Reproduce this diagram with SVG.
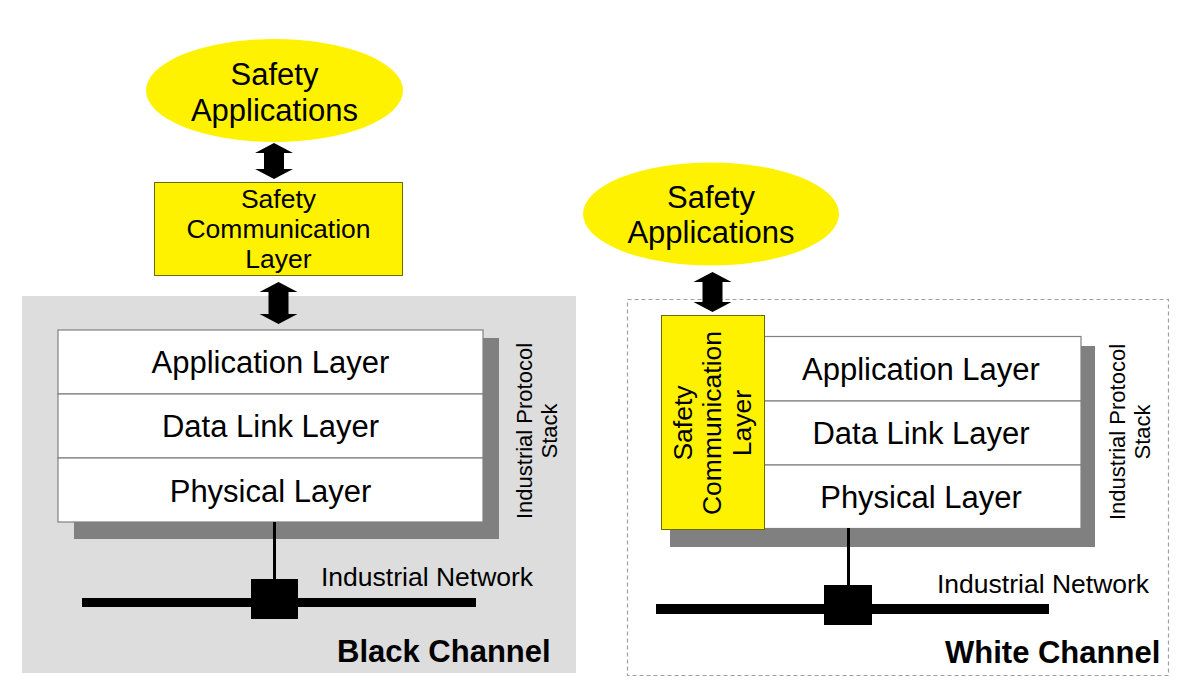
<svg xmlns="http://www.w3.org/2000/svg" width="1200" height="698" viewBox="0 0 1200 698">
<defs>
<style>
text{font-family:"Liberation Sans",Arial,sans-serif;fill:#000}
.yel{fill:#fff200;stroke:#6b6b00;stroke-width:1}
.ell{fill:#fff200;stroke:none}
.shadow{fill:#808080}
.layer{fill:#fff;stroke:#808080;stroke-width:1.2}
.big{font-size:31px;text-anchor:middle}
.mid{font-size:26.5px;text-anchor:middle}
.side{font-size:22px;text-anchor:middle}
.net{font-size:26.5px}
.ch{font-size:31px;font-weight:bold}
.arrow{fill:#000}
</style>
</defs>
<rect width="1200" height="698" fill="#fff"/>

<g id="black-channel-area">
<rect x="22" y="296" width="554" height="377" fill="#dddddd"/>
<text class="ch" x="337" y="662">Black Channel</text>
</g>

<g id="white-channel-area">
<rect x="627.5" y="299.5" width="541" height="376" fill="none" stroke="#a0a0a0" stroke-width="1.2" stroke-dasharray="4,3"/>
<text class="ch" x="945" y="663">White Channel</text>
</g>

<g id="left-safety-apps">
<ellipse class="ell" cx="274.5" cy="90.5" rx="128.5" ry="51.5"/>
<text class="big" x="274.5" y="85">Safety</text>
<text class="big" x="274.5" y="121">Applications</text>
</g>

<g id="left-scl">
<rect class="yel" x="154.5" y="182.5" width="248" height="93"/>
<text class="mid" x="278.5" y="208">Safety</text>
<text class="mid" x="278.5" y="238">Communication</text>
<text class="mid" x="278.5" y="268">Layer</text>
</g>

<g id="left-stack">
<rect class="shadow" x="74" y="338" width="425" height="201"/>
<rect class="layer" x="58" y="330" width="425" height="64"/>
<rect class="layer" x="58" y="394" width="425" height="64"/>
<rect class="layer" x="58" y="458" width="425" height="64"/>
<text class="big" x="270.5" y="373">Application Layer</text>
<text class="big" x="270.5" y="437">Data Link Layer</text>
<text class="big" x="270.5" y="502">Physical Layer</text>
<text class="side" transform="translate(532,431) rotate(-90)"><tspan x="0" y="0">Industrial Protocol</tspan><tspan x="0" y="25">Stack</tspan></text>
</g>

<g id="left-network">
<rect x="82" y="598" width="394" height="9" fill="#000"/>
<rect x="251" y="579" width="47" height="40" fill="#000"/>
<text class="net" x="321" y="586">Industrial Network</text>
</g>

<g id="right-safety-apps">
<ellipse class="ell" cx="711" cy="214" rx="128" ry="51.5"/>
<text class="big" x="711" y="207.5">Safety</text>
<text class="big" x="711" y="243">Applications</text>
</g>

<g id="right-stack">
<rect class="shadow" x="670" y="346" width="425" height="201"/>
<rect class="layer" x="764" y="336.5" width="317" height="64.5"/>
<rect class="layer" x="764" y="401" width="317" height="64"/>
<rect class="layer" x="764" y="465" width="317" height="63.5"/>
<text class="big" x="921" y="380">Application Layer</text>
<text class="big" x="921" y="444">Data Link Layer</text>
<text class="big" x="921" y="508">Physical Layer</text>
<text class="side" transform="translate(1125,432) rotate(-90)"><tspan x="0" y="0">Industrial Protocol</tspan><tspan x="0" y="25">Stack</tspan></text>
</g>

<g id="right-scl">
<rect class="yel" x="661.5" y="315.5" width="103" height="214"/>
<text class="mid" transform="translate(691.5,423) rotate(-90)"><tspan x="0" y="0">Safety</tspan><tspan x="0" y="29.5">Communication</tspan><tspan x="0" y="59">Layer</tspan></text>
</g>

<g id="right-network">
<rect x="656" y="604" width="393" height="10" fill="#000"/>
<rect x="824" y="585" width="48" height="40" fill="#000"/>
<text class="net" x="937" y="593">Industrial Network</text>
</g>

<g id="connectors">
<path class="arrow" d="M274,143 L293,153 L284,153 L284,169 L293,169 L274,179 L255,169 L264,169 L264,153 L255,153 Z"/>
<path class="arrow" d="M278.5,282 L297.5,292 L288.5,292 L288.5,314 L297.5,314 L278.5,324 L259.5,314 L268.5,314 L268.5,292 L259.5,292 Z"/>
<path class="arrow" d="M712.5,272 L731.5,282 L722.5,282 L722.5,302 L731.5,302 L712.5,312 L693.5,302 L702.5,302 L702.5,282 L693.5,282 Z"/>
<line x1="274.5" y1="522" x2="274.5" y2="580" stroke="#000" stroke-width="3"/>
<line x1="848.5" y1="528" x2="848.5" y2="586" stroke="#000" stroke-width="3"/>
</g>
</svg>
